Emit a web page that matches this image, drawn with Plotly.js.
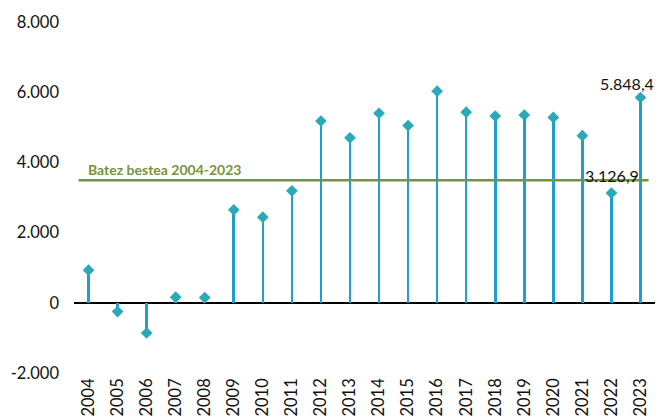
<!DOCTYPE html>
<html>
<head>
<meta charset="utf-8">
<script src="https://cdn.plot.ly/plotly-3.0.1.min.js"></script>
<style>html,body{margin:0;padding:0;background:#fff;}#chart{width:656px;height:419px;}</style>
</head>
<body>
<div id="chart"></div>
<script>
const years = ['2004','2005','2006','2007','2008','2009','2010','2011','2012','2013','2014','2015','2016','2017','2018','2019','2020','2021','2022','2023'];
const values = [930, -250, -860, 160, 150, 2650, 2440, 3190, 5180, 4700, 5400, 5050, 6030, 5430, 5320, 5350, 5280, 4760, 3126.9, 5848.4];
const average = 3490;
const averageLabel = 'Batez bestea 2004-2023';
const yTickVals = [-2000, 0, 2000, 4000, 6000, 8000];
const yTickText = ['-2.000', '0', '2.000', '4.000', '6.000', '8.000'];
const labelledYears = ['2022', '2023'];
const labelledTexts = ['3.126,9', '5.848,4'];

const FONT = 'Lato, "Open Sans", sans-serif';

const stems = {
  type: 'bar', x: years, y: values, width: 0.09,
  marker: {color: '#1ba1cc', line: {width: 0}},
  hoverinfo: 'skip', showlegend: false
};
const points = {
  type: 'scatter', mode: 'markers', x: years, y: values,
  marker: {symbol: 'diamond', size: 9, color: '#2aa9b6'},
  showlegend: false
};

const annotations = labelledYears.map((yr, i) => {
  const idx = years.indexOf(yr);
  return {
    x: idx, y: values[idx], xref: 'x', yref: 'y',
    text: labelledTexts[i], showarrow: false,
    yshift: i === 0 ? 18 : 14, xshift: i === 0 ? 1 : -13,
    font: {family: FONT, size: 16, color: '#111'}
  };
});
annotations.push({
  x: -0.08, y: average, xref: 'x', yref: 'y', xanchor: 'left', yanchor: 'bottom',
  text: '<b>' + averageLabel + '</b>', showarrow: false, yshift: 0,
  font: {family: FONT, size: 14, color: '#77933c'}
});

const layout = {
  width: 656, height: 419,
  margin: {l: 73.5, r: 0.5, t: 22, b: 46, pad: 0},
  paper_bgcolor: '#fff', plot_bgcolor: '#fff',
  font: {family: FONT, size: 15, color: '#111'},
  showlegend: false,
  bargap: 0,
  xaxis: {
    type: 'category', range: [-0.5, 19.5], tickangle: -90,
    showgrid: false, zeroline: false, showline: false, ticks: '',
    ticklabelstandoff: 1,
    tickfont: {family: FONT, size: 16.5, color: '#111'}, fixedrange: true
  },
  yaxis: {
    range: [-2000, 8000], tickvals: yTickVals, ticktext: yTickText,
    showgrid: false, zeroline: true, zerolinecolor: '#000', zerolinewidth: 1.5,
    showline: false, ticks: '', ticklabelstandoff: 14,
    tickfont: {family: FONT, size: 16.5, color: '#111'}, fixedrange: true
  },
  shapes: [{
    type: 'line', xref: 'x', yref: 'y', x0: -0.345, x1: 19.28, y0: average, y1: average,
    line: {color: '#77933c', width: 2.5}
  }],
  annotations: annotations
};

Plotly.newPlot('chart', [stems, points], layout, {displayModeBar: false, staticPlot: true});
</script>
</body>
</html>
